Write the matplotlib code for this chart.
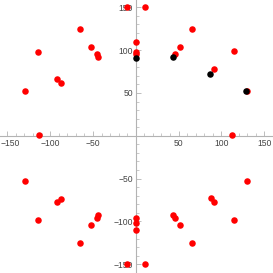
import matplotlib
matplotlib.use("Agg")
import matplotlib.pyplot as plt
import matplotlib.transforms as mtransforms
from matplotlib.ticker import MultipleLocator, FixedLocator

red_x = [-10.6, 10.4, -65.1, 65.2, -114.5, 114.6, -51.9, 51.9, -45.6, 46.1, -43.8,
         -91.6, -86.9, 91.6, -129.3, 129.8, -112.6, 112.6, 0, 0, 0,
         -129.3, 129.8, -91.6, 91.6, -86.9, 87.4, -114.5, 114.6, -43.8, 43.8,
         -45.6, 45.7, -51.9, 51.6, -65.1, 65.2, -10.6, 10.4, 0, 0, 0]
red_y = [150, 150, 125, 125, 98.1, 98.6, 103.6, 103.6, 95.8, 95.8, 91.9,
         66.3, 62.0, 77.6, 52.6, 52.6, 0.6, 0.6, 109.8, 98.1, 95.4,
         -52.7, -52.7, -77.6, -77.6, -73.4, -72.9, -98.6, -98.6, -92.4, -92.4,
         -96.3, -96.3, -104.1, -104.1, -125.1, -125.1, -150, -149.6, -95.9, -101.8, -110]

black_x = [0, 43.1, 86.6, 129.0]
black_y = [91.1, 91.6, 72.1, 51.9]

major_ticks = [-150, -100, -50, 50, 100, 150]

fig = plt.figure(figsize=(2.73, 2.73), dpi=100)
ax = fig.add_axes([0, 0, 1, 1])
ax.set_xlim(-158.5, 160.2)
ax.set_ylim(-160.2, 158.5)

axis_col = '#b3b3b3'
for s in ['top', 'right']:
    ax.spines[s].set_visible(False)
for s in ['left', 'bottom']:
    ax.spines[s].set_position(('data', 0))
    ax.spines[s].set_color(axis_col)
    ax.spines[s].set_linewidth(0.8)

ax.xaxis.set_major_locator(FixedLocator(major_ticks))
ax.yaxis.set_major_locator(FixedLocator(major_ticks))
ax.xaxis.set_minor_locator(MultipleLocator(10))
ax.yaxis.set_minor_locator(MultipleLocator(10))
ax.tick_params(which='major', direction='in', length=3.5, width=0.6, color=axis_col,
               labelsize=6.2, labelcolor='#444444', pad=2)
ax.tick_params(which='minor', direction='in', length=2, width=0.5, color=axis_col)
for lab in ax.get_xticklabels() + ax.get_yticklabels():
    lab.set_family('Liberation Sans')

# keep the leftmost x label inside the picture
first = ax.get_xticklabels()[0]
first.set_transform(first.get_transform() +
                    mtransforms.ScaledTranslation(2.5 / 100, 0, fig.dpi_scale_trans))

ax.scatter(red_x, red_y, s=22, color='#ff0000', linewidths=0, zorder=3)
ax.scatter(black_x, black_y, s=22, color='black', linewidths=0, zorder=4)

fig.savefig('out.png', dpi=100)
